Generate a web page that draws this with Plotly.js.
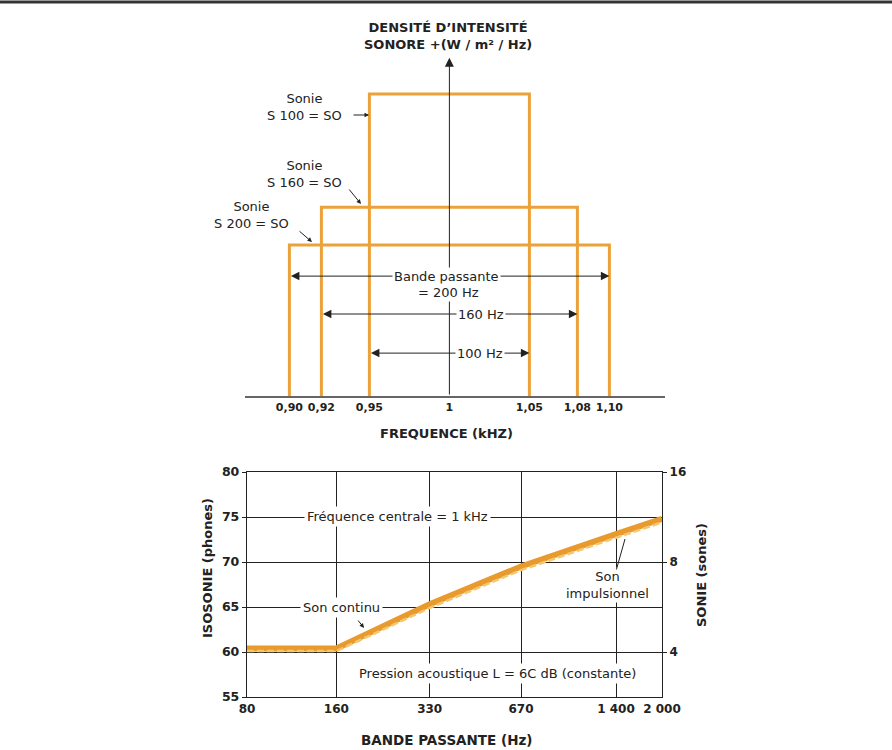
<!DOCTYPE html>
<html><head><meta charset="utf-8">
<script src="https://cdn.plot.ly/plotly-3.0.1.min.js"></script>
<style>html,body{margin:0;padding:0;background:#fff}</style>
</head><body><div id="chart" style="width:892px;height:750px"></div>
<script>
// ---------- Top chart data ----------
const bandwidthsHz = [100, 160, 200];
const bandLowKHz = [0.95, 0.92, 0.90];
const bandHighKHz = [1.05, 1.08, 1.10];
const relDensity = [1.0, 0.625, 0.5];
const sonieLabels = ['Sonie<br>S 100 = SO', 'Sonie<br>S 160 = SO', 'Sonie<br>S 200 = SO'];
const bwLabels = ['100 Hz', '160 Hz', 'Bande passante'];
const freqTickVals = [0.90, 0.92, 0.95, 1, 1.05, 1.08, 1.10];
const freqTickText = ['0,90', '0,92', '0,95', '1', '1,05', '1,08', '1,10'];
// ---------- Bottom chart data ----------
const bandwidthX = [80, 160, 330, 670, 1400, 2000];
const isoContinu = [60.4, 60.4, 65.3, 69.5, 73.1, 74.8];
const isoImpuls = [60.1, 60.1, 64.9, 69.1, 72.7, 74.4];
const bwTickVals = [80, 160, 330, 670, 1400, 2000];
const bwTickText = ['80', '160', '330', '670', '1 400', '2 000'];
const phonTicks = [55, 60, 65, 70, 75, 80];
const soneTicks = [4, 8, 16];

const ORANGE = '#EBA23A';
const INK = '#222';
const FONT = 'DejaVu Sans, Liberation Sans, Arial, sans-serif';
const W = 892, H = 750;
const px = x => x / W, py = y => 1 - y / H;

const traces = [];
for (let i = 0; i < bandwidthsHz.length; i++) {
  traces.push({
    x: [bandLowKHz[i], bandLowKHz[i], bandHighKHz[i], bandHighKHz[i]],
    y: [0, relDensity[i], relDensity[i], 0],
    mode: 'lines', line: {color: ORANGE, width: 3},
    xaxis: 'x', yaxis: 'y', hoverinfo: 'skip', name: bwLabels[i]
  });
}
traces.push({x: bandwidthX, y: isoContinu, mode: 'lines', line: {color: '#E89A2C', width: 6},
  xaxis: 'x2', yaxis: 'y2', name: 'Son continu'});
traces.push({x: bandwidthX, y: isoImpuls, mode: 'lines', line: {color: '#F5C66E', width: 2.5, dash: '7px,3px'},
  xaxis: 'x2', yaxis: 'y2', name: 'Son impulsionnel'});
traces.push({x: [bandwidthX[0], bandwidthX[bandwidthX.length-1]], y: [soneTicks[0], soneTicks[2]],
  mode: 'markers', marker: {opacity: 0}, xaxis: 'x2', yaxis: 'y3', hoverinfo: 'skip'});

const ann = [];
function txt(text, x, y, o) {
  ann.push(Object.assign({text: text, xref: 'paper', yref: 'paper', x: px(x), y: py(y),
    showarrow: false, xanchor: 'center', yanchor: 'middle',
    font: {family: FONT, size: 13, color: INK}}, o || {}));
}
function arrowPx(tipx, tipy, tailx, taily, head) {
  ann.push({text: '', xref: 'paper', yref: 'paper', x: px(tipx), y: py(tipy),
    ax: tailx - tipx, ay: taily - tipy, showarrow: true, arrowhead: head,
    arrowsize: 0.9, arrowwidth: 1, arrowcolor: INK});
}
const bold = s => ({family: FONT, size: s, color: INK});

// vertical axis of the top chart
ann.push({text: '', xref: 'x', yref: 'y', x: 1, y: 1.12, axref: 'x', ayref: 'y', ax: 1, ay: 0,
  showarrow: true, arrowhead: 2, arrowsize: 1.8, arrowwidth: 1, arrowcolor: INK, standoff: 0});
// double-headed bandwidth arrows
const arrowRows = [0.142, 0.2715, 0.397];
for (let i = 0; i < bandwidthsHz.length; i++) {
  ann.push({text: '', xref: 'x', yref: 'y', x: bandHighKHz[i], y: arrowRows[i],
    axref: 'x', ayref: 'y', ax: bandLowKHz[i], ay: arrowRows[i],
    showarrow: true, arrowside: 'end+start', arrowhead: 2, startarrowhead: 2,
    arrowsize: 1.7, startarrowsize: 1.7, arrowwidth: 1, arrowcolor: INK, standoff: 0, startstandoff: 0});
}
// bandwidth labels
txt('100 Hz', 480, 353, {bgcolor: '#fff', borderpad: 1});
txt('160 Hz', 481, 314, {bgcolor: '#fff', borderpad: 1});
txt('Bande passante', 447, 276, {bgcolor: '#fff', borderpad: 1});
txt('= 200 Hz', 449, 292, {bgcolor: '#fff', borderpad: 1});
// Sonie labels
txt(sonieLabels[0], 304, 107);
arrowPx(369, 115, 352, 115, 2);
txt(sonieLabels[1], 304, 174);
arrowPx(361, 204, 348, 188, 2);
txt(sonieLabels[2], 252, 215);
arrowPx(312, 242, 298, 230, 2);
// titles top
txt('<b>DENSITÉ D’INTENSITÉ<br>SONORE +(W / m² / Hz)</b>', 448, 36, {font: bold(13)});
txt('<b>FREQUENCE (kHZ)</b>', 447, 433, {font: bold(13)});

// bottom chart annotations
txt('Fréquence centrale = 1 kHz', 397, 516, {bgcolor: '#fff', borderpad: 2});
txt('Son continu', 341, 607, {bgcolor: '#fff', borderpad: 2});
arrowPx(364, 628, 357, 619, 2);
txt('Son<br>impulsionnel', 607, 585, {bgcolor: '#fff', borderpad: 1});
arrowPx(625, 539, 616, 571, 0);
txt('Pression acoustique L = 6C dB (constante)', 497, 673, {bgcolor: '#fff', borderpad: 2});
txt('<b>BANDE PASSANTE (Hz)</b>', 447, 740, {font: bold(13.5)});
txt('<b>ISOSONIE (phones)</b>', 207, 568, {textangle: -90, font: bold(13)});
txt('<b>SONIE (sones)</b>', 701, 575, {textangle: -90, font: bold(13)});

const tickFontB = s => ({family: FONT, size: s, color: INK, weight: 'bold'});

const layout = {
  width: W, height: H, margin: {l: 0, r: 0, t: 0, b: 0},
  paper_bgcolor: '#fff', plot_bgcolor: 'rgba(0,0,0,0)', showlegend: false,
  xaxis: {domain: [px(245), px(665)], range: [0.87225, 1.13475], anchor: 'y',
    showline: true, linecolor: '#666', linewidth: 1.5, showgrid: false, zeroline: false,
    tickvals: freqTickVals, ticktext: freqTickText, ticks: '', tickfont: tickFontB(11)},
  yaxis: {domain: [py(396), py(50)], range: [0, 1.1457], visible: false, anchor: 'x'},
  xaxis2: {type: 'log', domain: [px(247), px(662)], range: [Math.log10(80), Math.log10(2000)],
    anchor: 'y2', showgrid: true, gridcolor: INK, gridwidth: 1, showline: true, mirror: true,
    linecolor: INK, linewidth: 1.2, zeroline: false, tickvals: bwTickVals, ticktext: bwTickText,
    ticks: '', tickfont: tickFontB(12)},
  yaxis2: {domain: [py(697), py(472)], range: [55, 80], anchor: 'x2', tickvals: phonTicks,
    showgrid: true, gridcolor: INK, gridwidth: 1, showline: true, mirror: true, linecolor: INK,
    linewidth: 1.2, zeroline: false, ticks: 'outside', ticklen: 4, tickcolor: INK,
    tickfont: tickFontB(12.5)},
  yaxis3: {type: 'log', overlaying: 'y2', side: 'right', anchor: 'x2',
    range: [Math.log10(Math.pow(2, 1.5)), Math.log10(16)], tickvals: soneTicks,
    showgrid: false, showline: true, linecolor: INK, linewidth: 1.2, zeroline: false,
    ticks: 'outside', ticklen: 4, tickcolor: INK, tickfont: tickFontB(12)},
  shapes: [{type: 'line', xref: 'paper', yref: 'paper', x0: 0, x1: 1, y0: py(2), y1: py(2),
    line: {color: '#333', width: 3}}],
  annotations: ann
};
Plotly.newPlot('chart', traces, layout, {staticPlot: true, displayModeBar: false});
</script></body></html>
